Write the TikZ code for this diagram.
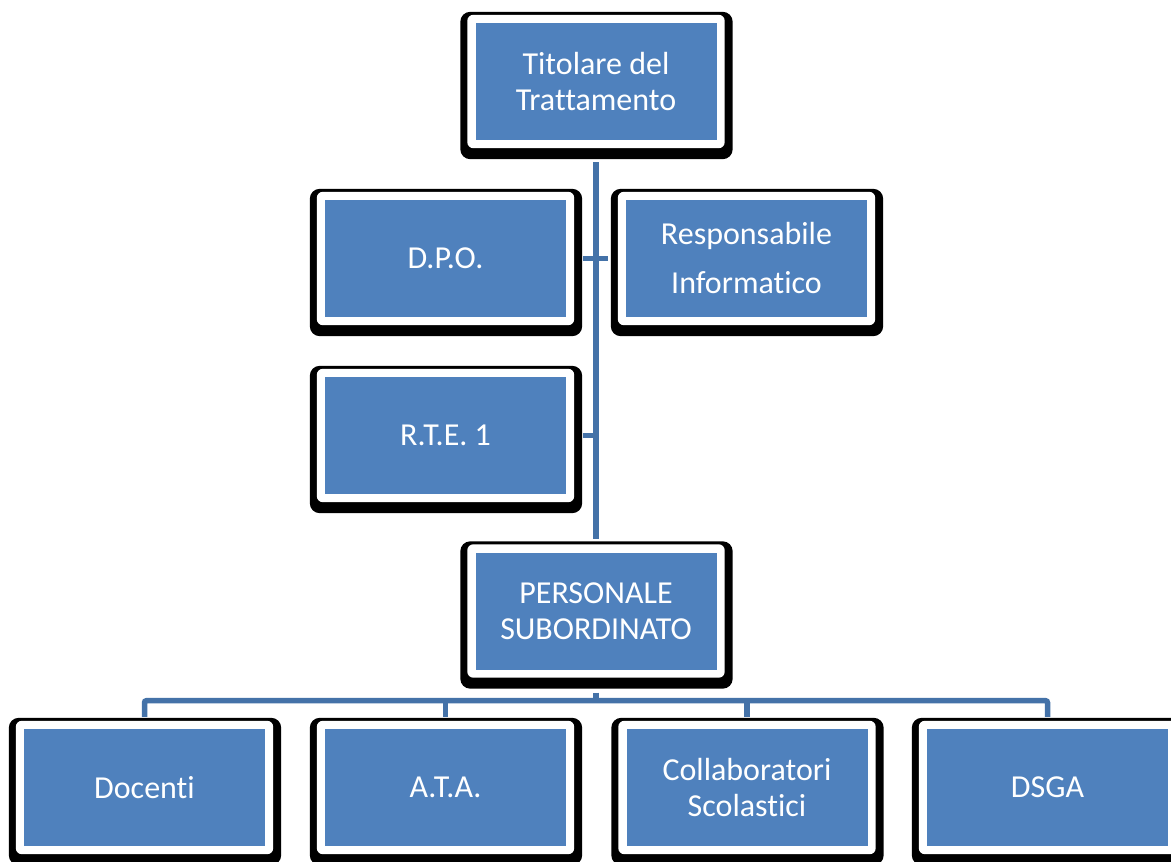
\documentclass[tikz,border=0pt]{standalone}
\usepackage{fontspec}
\setmainfont{Carlito}[Ligatures={NoCommon}]
\usetikzlibrary{backgrounds}
\definecolor{boxblue}{HTML}{4F81BD}
\definecolor{linkblue}{HTML}{4472A8}
\tikzset{
  orgnode/.style={fill=boxblue, draw=none, inner sep=0pt, minimum width=241pt, minimum height=117pt,
    text=white, align=center, font=\fontsize{32}{36}\selectfont},
  conn/.style={draw=linkblue, line width=5.5pt},
}
\newcommand\orgframe[1]{%
  \begin{scope}[on background layer]
    \fill[black, rounded corners=10pt] ([xshift=-15pt,yshift=11pt]#1.north west) rectangle ([xshift=16pt,yshift=-19pt]#1.south east);
    \fill[white, rounded corners=6pt] ([xshift=-8pt,yshift=8pt]#1.north west) rectangle ([xshift=8pt,yshift=-8pt]#1.south east);
  \end{scope}}
\begin{document}
\begin{tikzpicture}[x=1pt, y=-1pt]
\begin{scope}[on background layer]
\fill[white] (0,0) rectangle (1171,862);
\end{scope}
\useasboundingbox (0,0) rectangle (1171,862);
\node[orgnode] (tit) at (596,81.5) {Titolare del\\Trattamento};
\node[orgnode] (dpo) at (445.5,258.5) {D.P.O.};
\node[orgnode] (resp) at (746.5,258.5) {Responsabile\\[13pt]Informatico};
\node[orgnode] (rte) at (445.5,435.5) {R.T.E. 1};
\node[orgnode] (pers) at (596,611) {PERSONALE\\SUBORDINATO};
\node[orgnode] (doc) at (144.5,787.5) {Docenti};
\node[orgnode] (ata) at (445.5,787.5) {A.T.A.};
\node[orgnode] (col) at (747,787.5) {Collaboratori\\Scolastici};
\node[orgnode] (dsga) at (1047.5,787.5) {DSGA};
\foreach \n in {tit,dpo,resp,rte,pers,doc,ata,col,dsga} {\orgframe{\n}}
% spine
\draw[conn] ([yshift=-22pt]tit.south) -- ([yshift=13pt]pers.north);
\draw[conn] ([xshift=17pt]dpo.east) -- ([xshift=-18pt]resp.west);
\draw[conn] ([xshift=17pt]rte.east) -- (rte.east -| tit.south);
% bottom tree
\coordinate (bar) at ([yshift=-31pt]pers.south);
\draw[conn] ([yshift=-23pt]pers.south) -- (bar);
\draw[conn, rounded corners=2pt] ([yshift=12pt]doc.north) |- (bar) -| ([yshift=12pt]dsga.north);
\draw[conn] ([yshift=12pt]ata.north) -- (ata.north |- bar);
\draw[conn] ([yshift=12pt]col.north) -- (col.north |- bar);
\end{tikzpicture}
\end{document}
